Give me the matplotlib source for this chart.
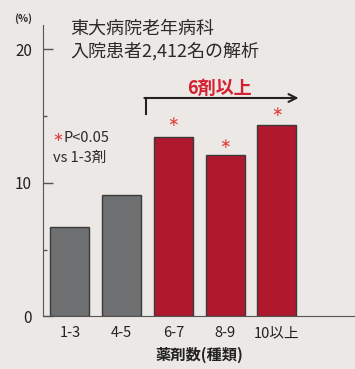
import matplotlib.pyplot as plt
from matplotlib.ticker import MultipleLocator

plt.rcParams['font.family'] = ['Noto Sans CJK JP', 'DejaVu Sans']

# data
groups = ['1-3', '4-5', '6-7', '8-9', '10以上']
rates = [6.7, 9.1, 13.4, 12.1, 14.3]
significant = [False, False, True, True, True]
star_heights = [None, None, 14.55, 12.9, 15.3]

bg = '#ebe8e5'
gray = '#6f7072'
red = '#b0182e'
txt = '#2a2a2a'
star_red = '#e0403e'

fig = plt.figure(figsize=(3.55, 3.69), dpi=100, facecolor=bg)
ax = fig.add_axes([0.121, 0.1423, 0.879, 0.79])
ax.set_facecolor(bg)

x = list(range(len(groups)))
colors = [red if s else gray for s in significant]
ax.bar(x, rates, width=0.75, color=colors, edgecolor='#3a3a3a', linewidth=1.0)

ax.set_xlim(-0.52, 5.51)
ax.set_ylim(0, 21.8)

for s in ['top', 'right']:
    ax.spines[s].set_visible(False)
ax.spines['left'].set_color('#555555')
ax.spines['bottom'].set_color('#555555')

ax.yaxis.set_major_locator(MultipleLocator(10))
ax.yaxis.set_minor_locator(MultipleLocator(5))
ax.tick_params(axis='y', which='major', direction='in', length=7.5, width=1,
               color='#555555', labelsize=11, pad=8, labelcolor='#222222')
ax.tick_params(axis='y', which='minor', direction='in', length=3, width=1,
               color='#555555')
ax.set_xticks(x)
ax.set_xticklabels(groups)
ax.tick_params(axis='x', length=0, labelsize=10.5, pad=7, labelcolor='#222222')
ax.set_xlabel('薬剤数(種類)', fontsize=11, fontweight='bold', color='#222222', labelpad=5)

# significance stars
for xi, h in zip(x, star_heights):
    if h is not None:
        ax.text(xi, h, '∗', color=star_red, fontsize=10, ha='center', va='center',
                family='DejaVu Sans')

# bracket arrow over the 6+ groups
ax.plot([1.47, 1.47], [15.07, 16.34], color='#222222', lw=1.5, solid_capstyle='butt')
ax.annotate('', xy=(4.42, 16.34), xytext=(1.44, 16.34),
            arrowprops=dict(arrowstyle='->', color='#222222', lw=1.5,
                            shrinkA=0, shrinkB=0, mutation_scale=14))
ax.text(2.9, 17.05, '6剤以上', color='#d42030', fontsize=13, fontweight='bold',
        ha='center', va='center')

ax.text(-0.34, 13.35, '∗', color=star_red, fontsize=9.5, ha='left', va='center',
        family='DejaVu Sans')
ax.text(-0.12, 13.35, 'P<0.05', color=txt, fontsize=10.5, ha='left', va='center')
ax.text(-0.33, 11.85, 'vs 1-3剤', color=txt, fontsize=10.5, ha='left', va='center')

fig.text(0.197, 0.892, '東大病院老年病科\n入院患者2,412名の解析', color=txt,
         fontsize=13, ha='left', va='center', linespacing=1.3)
fig.text(0.065, 0.95, '(%)', color=txt, fontsize=7.5, fontweight='bold',
         ha='center', va='center')

fig.savefig('out.png', dpi=100, facecolor=bg)
